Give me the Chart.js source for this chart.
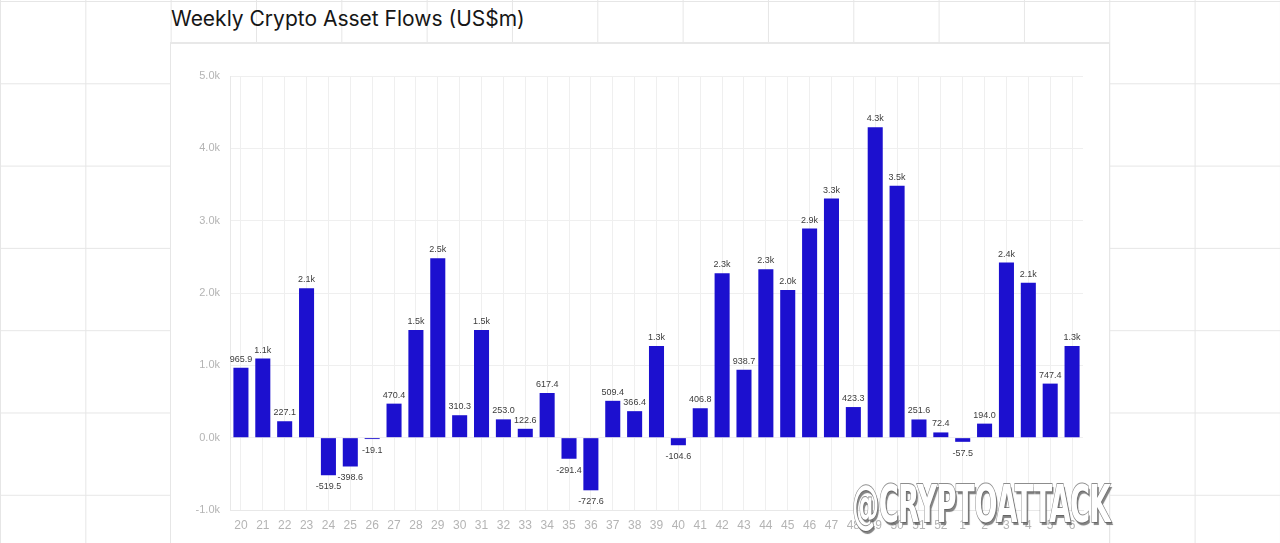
<!DOCTYPE html>
<html>
<head>
<meta charset="utf-8">
<script src="https://cdn.jsdelivr.net/npm/chart.js@4.4.1/dist/chart.umd.min.js"></script>
<style>
  html, body { margin: 0; padding: 0; }
  body {
    width: 1280px; height: 543px; overflow: hidden; position: relative;
    background-color: #fff;
    background-image:
      linear-gradient(to right, #e6e6e6 1px, transparent 1px),
      linear-gradient(to bottom, #e6e6e6 1px, transparent 1px);
    background-size: 85.333px 82.3px;
    background-position: 0 0, 0 1px;
  }
  #title {
    position: absolute; left: 171px; top: 7px;
    font-family: Inter, "Noto Sans", sans-serif; font-size: 21px; line-height: 24px;
    color: #161616; white-space: nowrap;
  }
  #panel {
    position: absolute; left: 170px; top: 42px; width: 938px; height: 510px;
    background: #fff; border: 1px solid #e6e6e6; border-top: 2px solid #e8e8e8;
  }
  #chart { position: absolute; left: 170px; top: 45px; }
  #mark {
    position: absolute; left: 852px; top: 476px;
    font-family: "DejaVu Sans", sans-serif;
    font-weight: bold; font-size: 52px; line-height: 56px;
    color: #fff; white-space: nowrap; letter-spacing: -1px;
    -webkit-text-stroke: 1.8px #8d8d8d; paint-order: stroke fill;
    text-shadow: 3px 3px 1px rgba(90, 90, 90, 0.75);
    transform-origin: 0 0;
  }
</style>
</head>
<body>
<div id="title">Weekly Crypto Asset Flows (US$m)</div>
<div id="panel"></div>
<canvas id="chart" width="940" height="498"></canvas>
<div id="mark">@CRYPTOATTACK</div>
<script>
(function () {

    'use strict';

    var barBlue = '#1c10cf';

    // week numbers
    var weeks = ['20', '21', '22', '23', '24', '25', '26', '27', '28', '29', '30', '31', '32',
        '33', '34', '35', '36', '37', '38', '39', '40', '41', '42', '43', '44', '45', '46',
        '47', '48', '49', '50', '51', '52', '1', '2', '3', '4', '5', '6'];

    // weekly flows, US$m
    var flows = [965.9, 1093, 227.1, 2065, -519.5, -398.6, -19.1, 470.4, 1490, 2480, 310.3,
        1490, 253.0, 122.6, 617.4, -291.4, -727.6, 509.4, 366.4, 1268, -104.6, 406.8, 2272,
        938.7, 2328, 2040, 2891, 3306, 423.3, 4292, 3481, 251.6, 72.4, -57.5, 194.0, 2420,
        2140, 747.4, 1268];

    var yTicks = [-1000, 0, 1000, 2000, 3000, 4000, 5000];

    function fmt(v) {
        if (Math.abs(v) >= 1000) {
            return (v / 1000).toFixed(1) + 'k';
        }
        return v.toFixed(1);
    }

    // squeeze the watermark into its box
    var mark = document.getElementById('mark');
    mark.style.transform = 'scaleX(' + (258 / mark.offsetWidth) + ')';

    // value labels above / below the bars
    var barLabels = {
        id: 'barLabels',
        afterDatasetsDraw: function (chart) {
            var ctx = chart.ctx;
            var meta = chart.getDatasetMeta(0);
            ctx.save();
            ctx.font = '9px "Liberation Sans", Arial, sans-serif';
            ctx.fillStyle = '#3c3c3c';
            ctx.textAlign = 'center';
            ctx.textBaseline = 'middle';
            meta.data.forEach(function (bar, i) {
                var v = flows[i];
                if (v >= 0) {
                    ctx.fillText(fmt(v), bar.x, bar.y - 8.5);
                } else {
                    ctx.fillText(fmt(v), bar.x, bar.y + 11.5);
                }
            });
            ctx.restore();
        }
    };

    var flowChart = new Chart(document.getElementById('chart'), {
        type: 'bar',
        data: {
            labels: weeks,
            datasets: [
                {
                    label: 'Flows',
                    data: flows,
                    backgroundColor: barBlue,
                    borderWidth: 0,
                    barPercentage: 0.86,
                    categoryPercentage: 0.8
                }
            ]
        },
        options: {
            responsive: false,
            animation: false,
            layout: {
                padding: { left: 0, right: 27, top: 31, bottom: 0 }
            },
            plugins: {
                legend: { display: false },
                tooltip: { enabled: false }
            },
            scales: {
                x: {
                    afterFit: function (s) { s.height = 33; },
                    grid: { offset: false, color: '#efefef', drawTicks: false },
                    border: { color: '#e8e8e8' },
                    ticks: {
                        color: '#b4b4b4',
                        padding: 8,
                        autoSkip: false,
                        maxRotation: 0,
                        font: { family: '"Liberation Sans", Arial, sans-serif', size: 12 }
                    }
                },
                y: {
                    min: -1000,
                    max: 5000,
                    afterFit: function (s) { s.width = 60; },
                    afterBuildTicks: function (s) {
                        s.ticks = yTicks.map(function (v) { return { value: v }; });
                    },
                    grid: { color: '#efefef', drawTicks: false },
                    border: { color: '#e8e8e8' },
                    ticks: {
                        color: '#b4b4b4',
                        padding: 10,
                        font: { family: '"Liberation Sans", Arial, sans-serif', size: 11 },
                        callback: function (v) { return (v / 1000).toFixed(1) + 'k'; }
                    }
                }
            }
        },
        plugins: [barLabels]
    });

})();
</script>
</body>
</html>
